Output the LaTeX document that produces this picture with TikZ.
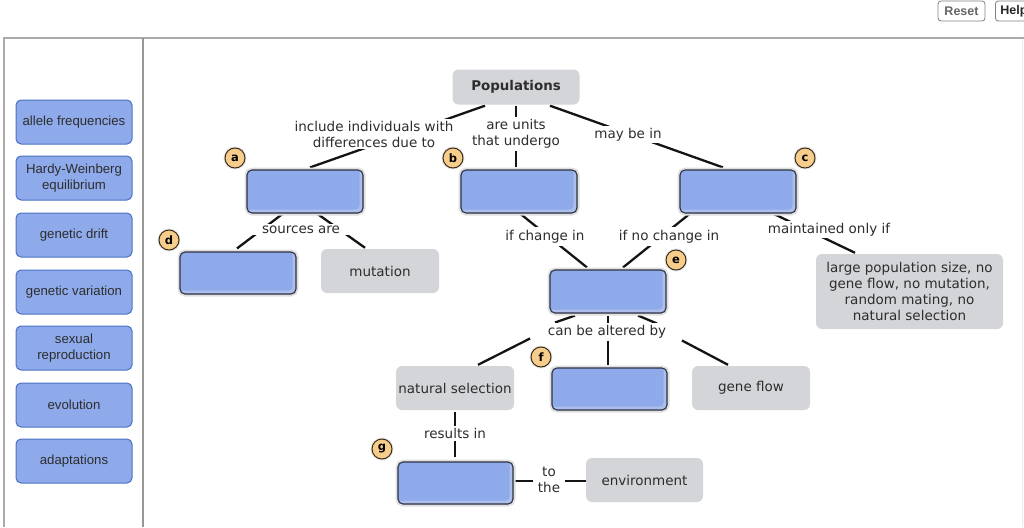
\documentclass[tikz,border=0pt]{standalone}
\usepackage{fontspec}
\setmainfont{DejaVu Sans}
\newfontfamily\mapfont{DejaVu Sans}
\newfontfamily\palfont{Liberation Sans}
\definecolor{bluefill}{RGB}{142,170,235}
\definecolor{bluelight}{RGB}{172,190,236}
\definecolor{palborder}{RGB}{74,114,196}
\definecolor{bluedark}{RGB}{45,50,65}
\definecolor{conceptgray}{RGB}{212,213,216}
\definecolor{badgefill}{RGB}{247,205,140}
\definecolor{badgedraw}{RGB}{60,45,25}
\definecolor{textgray}{RGB}{45,45,45}
\definecolor{framec}{RGB}{170,170,170}
\definecolor{dividerc}{RGB}{150,150,150}
\definecolor{linkc}{RGB}{20,20,20}
\pgfdeclarelayer{bg}
\pgfsetlayers{bg,main}
\begin{document}
\begin{tikzpicture}[x=1pt,y=-1pt,
  blank/.style={rectangle, rounded corners=5pt, fill=bluefill, draw=bluedark, line width=1.1pt,
    minimum width=116pt, minimum height=43pt, inner sep=0pt,
    preaction={draw=black!12, line width=5pt},
    path picture={
      \draw[bluelight, line width=4pt]
        ([xshift=-1.5pt]path picture bounding box.north east) --
        ([shift={(-1.5pt,1.5pt)}]path picture bounding box.south east) --
        ([yshift=1.5pt]path picture bounding box.south west);}},
  concept/.style={rectangle, rounded corners=6pt, fill=conceptgray, text=textgray,
    font={\mapfont\fontsize{13.5}{16}\selectfont}, align=center,
    minimum width=118pt, minimum height=44pt, inner sep=0pt},
  lbl/.style={fill=white, text=textgray, font={\mapfont\fontsize{13.5}{16}\selectfont},
    align=center, inner xsep=4pt, inner ysep=2pt},
  badge/.style={circle, fill=badgefill, draw=badgedraw, line width=1pt, minimum size=20pt,
    inner sep=0pt, font={\mapfont\bfseries\fontsize{11.5}{12}\selectfont},
    preaction={draw=black!10, line width=3pt}},
  pal/.style={rectangle, rounded corners=5pt, fill=bluefill, draw=palborder, line width=1pt,
    minimum width=116pt, minimum height=44pt, inner sep=0pt, align=center, text=textgray,
    font={\palfont\fontsize{13.2}{16}\selectfont}},
  btn/.style={rectangle, rounded corners=3pt, draw=black!50, line width=0.8pt,
    minimum height=20pt, inner sep=0pt, font={\palfont\bfseries\fontsize{12.5}{14}\selectfont}},
  link/.style={draw=linkc, line width=2.3pt}
]
\useasboundingbox (0,0) rectangle (1024,527);

% frame
\draw[framec, line width=1.2pt] (4,527) -- (4,38) -- (1024,38);
\draw[dividerc, line width=2pt] (143,38) -- (143,527);
\draw[black!8, line width=1pt] (1022,39) -- (1022,527);

% buttons
\node[btn, minimum width=47pt, text=black!60] (reset) at (961.5,11) {Reset};
\node[btn, minimum width=40pt, text=black!85, anchor=west, text width=36pt, align=left] (help) at (995,11) {\hspace*{3pt}Help};

% palette
\node[pal] (p1) at (74,122) {allele frequencies};
\node[pal] (p2) at (74,178) {Hardy-Weinberg\\equilibrium};
\node[pal] (p3) at (74,235) {genetic drift};
\node[pal] (p4) at (74,292) {genetic variation};
\node[pal] (p5) at (74,348) {sexual\\reproduction};
\node[pal] (p6) at (74,405) {evolution};
\node[pal] (p7) at (74,461) {adaptations};

% concepts
\node[concept, minimum width=127pt, minimum height=35pt, font={\mapfont\bfseries\fontsize{13.4}{16}\selectfont}] (pop) at (516,87) {Populations};
\node[blank] (a) at (305,191.5) {};
\node[blank] (b) at (519,191.5) {};
\node[blank] (c) at (738,191.5) {};
\node[blank, minimum height=42pt] (d) at (238,273) {};
\node[concept] (mut) at (380,271) {mutation};
\node[blank] (e) at (608,291.5) {};
\node[concept, minimum width=187pt, minimum height=75pt] (lp) at (909.5,291.5) {large population size, no\\gene flow, no mutation,\\random mating, no\\natural selection};
\node[concept] (ns) at (455,388) {natural selection};
\node[blank, minimum width=115pt, minimum height=42pt] (f) at (609.5,389) {};
\node[concept] (gf) at (751,388) {gene flow};
\node[blank, minimum width=115pt, minimum height=42pt] (g) at (455.5,483) {};
\node[concept, minimum width=117pt] (env) at (644.5,480) {environment};

% link labels
\node[lbl] (l1) at (374,134) {include individuals with\\differences due to};
\node[lbl] (l2) at (516,134) {are units\\that undergo};
\node[lbl] (l3) at (628,134.5) {may be in};
\node[lbl, inner xsep=12pt] (l4) at (301,229.5) {sources are};
\node[lbl, inner ysep=3pt] (l5) at (545,236.5) {if change in};
\node[lbl, inner ysep=3pt] (l6) at (669,236.5) {if no change in};
\node[lbl] (l7) at (829,229.5) {maintained only if};
\node[lbl] (l8) at (607,331.5) {can be altered by};
\node[lbl] (l9) at (455,433.5) {results in};
\node[lbl, inner xsep=5pt] (l10) at (549,479.5) {to\\the};

% badges
\node[badge] (ba) at (235,158) {a};
\node[badge] (bb) at (453,158) {b};
\node[badge] (bc) at (805,158) {c};
\node[badge] (bd) at (169,240) {d};
\node[badge] (be) at (676,260) {e};
\node[badge] (bf) at (541,357) {f};
\node[badge] (bg) at (382,449) {g};

% connectors (behind labels)
\begin{pgfonlayer}{bg}
\fill[white] (0,0) rectangle (1024,527);
\draw[link] ([shift={(-31,1)}]pop.south) -- ([shift={(5,-2)}]a.north);
\draw[link] ([shift={(0,1)}]pop.south) -- ([shift={(-3,-2)}]b.north);
\draw[link] ([shift={(34,1)}]pop.south) -- ([shift={(-15,-2)}]c.north);
\draw[link] ([shift={(-22,0)}]a.south) -- ([shift={(-1,-3)}]d.north);
\draw[link] ([shift={(12,0)}]a.south) -- ([shift={(-15,-1)}]mut.north);
\draw[link] ([shift={(1,0)}]b.south) -- ([shift={(-21,-2)}]e.north);
\draw[link] ([shift={(-48,0)}]c.south) -- ([shift={(15,-2)}]e.north);
\draw[link] ([shift={(35,0)}]c.south) -- ([shift={(-54.5,-1)}]lp.north);
\draw[link] ([shift={(-33,2)}]e.south) -- ([shift={(-52,-9)}]l8.center);
\draw[link] ([shift={(0,2)}]e.south) -- ([shift={(1,-8)}]l8.center);
\draw[link] ([shift={(30,2)}]e.south) -- ([shift={(50,-8)}]l8.center);
\draw[link] ([shift={(-77,7)}]l8.center) -- ([shift={(23,-1)}]ns.north);
\draw[link] ([shift={(1,9)}]l8.center) -- ([shift={(-1.5,-2)}]f.north);
\draw[link] ([shift={(75,9)}]l8.center) -- ([shift={(-23,-1)}]gf.north);
\draw[link] ([shift={(0,2)}]ns.south) -- ([shift={(-0.5,-4)}]g.north);
\draw[link] ([shift={(1,-2)}]g.east) -- ([shift={(0,1)}]env.west);
\end{pgfonlayer}
\end{tikzpicture}
\end{document}
